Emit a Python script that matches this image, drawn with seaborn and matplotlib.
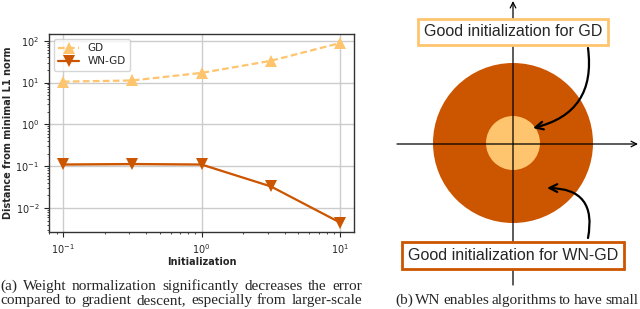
import numpy as np
import pandas as pd
import matplotlib.pyplot as plt
import matplotlib.transforms as mtransforms
from matplotlib.patches import Circle
import seaborn as sns

## DATA ##
init_scale = [0.1, 0.316, 1.0, 3.16, 10.0]
gd_dist = [10.5, 11.2, 17.0, 33.0, 88.0]
wngd_dist = [0.110, 0.113, 0.110, 0.033, 0.0045]
wngd_low = [0.104, 0.107, 0.105, 0.032, 0.0044]
wngd_high = [0.118, 0.120, 0.116, 0.034, 0.0046]
methods = ["GD", "WN-GD"]

caption_a = ["(a) Weight normalization significantly decreases the error",
             "compared to gradient descent, especially from larger-scale"]
caption_b = ["(b) WN enables algorithms to have small"]
box_gd = "Good initialization for GD"
box_wn = "Good initialization for WN-GD"

light = "#fec46e"
dark = "#cc5500"
##########

df = pd.DataFrame({
    "init": init_scale * 2,
    "dist": gd_dist + wngd_dist,
    "method": ["GD"] * len(gd_dist) + ["WN-GD"] * len(wngd_dist),
})

sns.set_style("whitegrid", {"grid.color": "#cccccc", "axes.edgecolor": "#333333"})
plt.rcParams["font.family"] = ["DejaVu Sans"]

fig = plt.figure(figsize=(6.4, 3.09), dpi=100)
W, H = 640, 309

# ---- left panel ----
ax = fig.add_axes([49 / W, 1 - 232 / H, (354 - 49) / W, (232 - 34) / H])
sns.lineplot(data=df, x="init", y="dist", hue="method", style="method",
             palette={"GD": light, "WN-GD": dark},
             markers={"GD": "^", "WN-GD": "v"},
             dashes={"GD": (3, 1.5), "WN-GD": ""},
             markersize=8.5, markeredgewidth=0, linewidth=1.6, ax=ax)
ax.fill_between(init_scale, wngd_low, wngd_high, color=dark, alpha=0.25, lw=0)
ax.set_xscale("log")
ax.set_yscale("log")
ax.set_xlabel("Initialization", fontsize=7, fontweight="bold", labelpad=1)
ax.set_ylabel("Distance from minimal L1 norm", fontsize=7, fontweight="bold", labelpad=2)
ax.tick_params(labelsize=7, which="major", length=3.5, left=True, bottom=True)
ax.tick_params(which="minor", length=1.5, left=True, bottom=True)
for s in ax.spines.values():
    s.set_linewidth(1.0)
ax.grid(True, which="major", color="#cccccc", lw=1)
ax.legend(title=None, fontsize=7.5, loc="upper left", markerscale=1.0,
          handlelength=2.0, borderpad=0.4, labelspacing=0.3)

# ---- right panel (pixel coordinates) ----
ax2 = fig.add_axes([360 / W, 0, 280 / W, 1])
ax2.set_xlim(360, 640)
ax2.set_ylim(309, 0)
ax2.set_aspect("equal")
ax2.axis("off")
ax2.add_patch(Circle((513, 143), 80, color=dark, lw=0, zorder=1))
ax2.add_patch(Circle((513, 143), 27, color=light, lw=0, zorder=2))
ax2.annotate("", xy=(513, 1), xytext=(513, 285),
             arrowprops=dict(arrowstyle="->", lw=0.9, color="black", shrinkA=0, shrinkB=0), zorder=3)
ax2.annotate("", xy=(638, 144), xytext=(397, 144),
             arrowprops=dict(arrowstyle="->", lw=0.9, color="black", shrinkA=0, shrinkB=0), zorder=3)
ax2.annotate("", xy=(533, 128), xytext=(588, 48),
             arrowprops=dict(arrowstyle="->", lw=1.6, color="black", shrinkA=0, shrinkB=0,
                             mutation_scale=14, connectionstyle="arc3,rad=-0.45"), zorder=4)
ax2.annotate("", xy=(547, 188), xytext=(588, 238),
             arrowprops=dict(arrowstyle="->", lw=1.6, color="black", shrinkA=0, shrinkB=0,
                             mutation_scale=14, connectionstyle="arc3,rad=0.6"), zorder=4)
ax2.text(513, 32, box_gd, ha="center", va="center", fontsize=11.5, family="Liberation Sans",
         bbox=dict(boxstyle="square,pad=0.35", fc="white", ec=light, lw=2), zorder=5)
ax2.text(513, 255.5, box_wn, ha="center", va="center", fontsize=11.5, family="Liberation Sans",
         bbox=dict(boxstyle="square,pad=0.35", fc="white", ec=dark, lw=2), zorder=5)

# ---- captions, justified ----
px = mtransforms.IdentityTransform()
renderer = fig.canvas.get_renderer()

# pick a font size so the first caption line nearly fills its width
probe = fig.text(0, 0, caption_a[0], transform=px, fontsize=10, family="Liberation Serif")
cap_size = min(10 * 0.97 * 362 / probe.get_window_extent(renderer).width, 13)
probe.remove()


def justify(line, x0, x1, y_base):
    words = line.split(" ")
    texts = [fig.text(0, H - y_base, w, transform=px, fontsize=cap_size,
                      family="Liberation Serif", va="baseline") for w in words]
    widths = [t.get_window_extent(renderer).width for t in texts]
    gap = (x1 - x0 - sum(widths)) / (len(words) - 1)
    x = x0
    for t, w in zip(texts, widths):
        t.set_x(x)
        x += w + gap


justify(caption_a[0], 0, 362, 290)
justify(caption_a[1], 0, 362, 304)
justify(caption_b[0], 395, 638, 304)

fig.savefig("out.png", dpi=100)
